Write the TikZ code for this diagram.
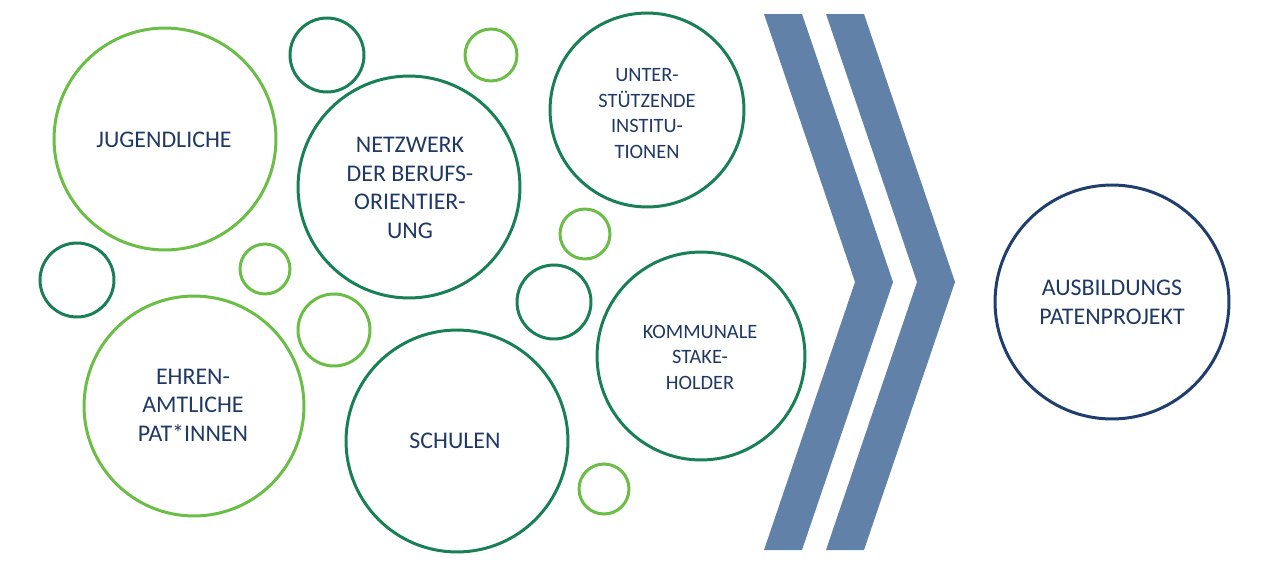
\documentclass[tikz,border=0pt]{standalone}
\usepackage{fontspec}
\setmainfont{Carlito}
\definecolor{lgreen}{RGB}{106,189,69}
\definecolor{dgreen}{RGB}{24,128,84}
\definecolor{navytext}{RGB}{31,56,100}
\definecolor{navyring}{RGB}{31,62,110}
\definecolor{chev}{RGB}{97,129,168}
\begin{document}
\begin{tikzpicture}[x=0.02cm,y=-0.02cm,
  ring/.style={circle, draw, line width=1.7pt, inner sep=0pt, outer sep=0pt, minimum size=#1*0.04cm},
  lring/.style={ring=#1, draw=lgreen},
  dring/.style={ring=#1, draw=dgreen},
  bigtxt/.style={align=center, text=navytext, inner sep=0pt, font=\fontsize{13.6}{16.2}\selectfont},
  smalltxt/.style={align=center, text=navytext, inner sep=0pt, font=\fontsize{11.6}{14.5}\selectfont},
  chevron/.style={fill=chev, draw=none}]
\useasboundingbox (0,0) rectangle (1280,575);

% big circles
\node[lring=111] (jug) at (165,139) {};
\node[dring=111] (netz) at (409,187) {};
\node[dring=97]  (unter) at (647,110) {};
\node[lring=110] (ehren) at (194,406) {};
\node[dring=111] (schul) at (457,441) {};
\node[dring=104] (komm) at (701,356) {};
\node[ring=117, draw=navyring] (ausb) at (1112,302) {};

% small circles
\node[dring=37] (s1) at (327,55) {};
\node[lring=26] (s2) at (491,55) {};
\node[lring=25] (s3) at (585,234) {};
\node[dring=37] (s4) at (77,280) {};
\node[lring=25] (s5) at (265,269) {};
\node[lring=36] (s6) at (334,330) {};
\node[dring=37] (s7) at (554,302) {};
\node[lring=25] (s8) at (604,489) {};

% labels
\node[bigtxt] (tjug) at (164,139.5) {JUGENDLICHE};
\node[bigtxt] (tnetz) at (410,188) {NETZWERK\\DER BERUFS-\\ORIENTIER-\\UNG};
\node[smalltxt] (tunter) at (647,113.5) {UNTER-\\STÜTZENDE\\INSTITU-\\TIONEN};
\node[smalltxt] (tkomm) at (700,357) {KOMMUNALE\\STAKE-\\HOLDER};
\node[bigtxt] (tehren) at (193,405) {EHREN-\\AMTLICHE\\PAT*INNEN};
\node[bigtxt] (tschul) at (455,441) {SCHULEN};
\node[bigtxt] (tausb) at (1112,302.5) {AUSBILDUNGS\\PATENPROJEKT};

% chevrons
\fill[chevron] (764,14) -- (802,14) -- (893,282) -- (802,550) -- (764,550) -- (855,282) -- cycle;
\fill[chevron] (826,14) -- (864,14) -- (955,282) -- (864,550) -- (826,550) -- (917,282) -- cycle;
\end{tikzpicture}
\end{document}
